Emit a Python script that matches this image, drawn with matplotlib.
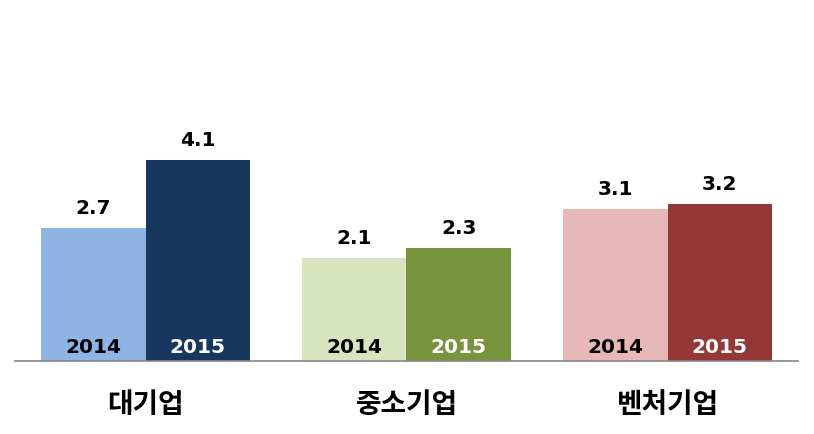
import matplotlib
matplotlib.use("Agg")
import matplotlib.pyplot as plt
import numpy as np

categories = ["대기업", "중소기업", "벤처기업"]
years = ["2014", "2015"]
values_2014 = [2.7, 2.1, 3.1]
values_2015 = [4.1, 2.3, 3.2]
colors_2014 = ["#8EB4E3", "#D7E4BD", "#E6B9B8"]
colors_2015 = ["#17375E", "#77933C", "#953735"]

plt.rcParams['font.family'] = ['Noto Sans CJK KR', 'DejaVu Sans']

fig = plt.figure(figsize=(8.14, 4.34), dpi=100)
ax = fig.add_axes([15/814, 73.5/434, 783/814, 343/434])

x = np.arange(len(categories))
w = 0.4
b1 = ax.bar(x - w/2, values_2014, w, color=colors_2014)
b2 = ax.bar(x + w/2, values_2015, w, color=colors_2015)

num_font = dict(family="DejaVu Sans", fontsize=14.5, fontweight="bold")
for bars, vals, ycol, yr in [(b1, values_2014, "black", years[0]), (b2, values_2015, "white", years[1])]:
    for r, v in zip(bars, vals):
        cx = r.get_x() + r.get_width()/2
        ax.annotate(f"{v:.1f}", (cx, v), xytext=(0, 10), textcoords="offset points",
                    ha="center", va="baseline", color="black", **num_font)
        ax.annotate(yr, (cx, 0), xytext=(0, 5.5), textcoords="offset points",
                    ha="center", va="baseline", color=ycol, **num_font)

ax.set_xlim(-0.5, 2.5)
ax.set_ylim(0, 7)
ax.set_yticks([])
ax.set_xticks(x)
ax.set_xticklabels(categories, fontsize=20, fontweight="bold")
ax.tick_params(axis="x", length=0, pad=22)
for s in ["top", "left", "right"]:
    ax.spines[s].set_visible(False)
ax.spines["bottom"].set_color("#868686")
ax.spines["bottom"].set_linewidth(1.2)

fig.savefig("out.png", dpi=100)
